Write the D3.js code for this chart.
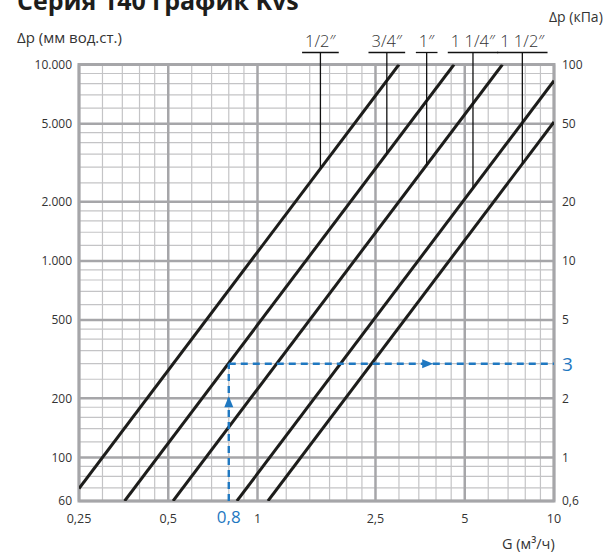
<!DOCTYPE html>
<html><head><meta charset="utf-8">
<script src="https://cdn.jsdelivr.net/npm/d3@7/dist/d3.min.js"></script>
<style>body{margin:0;background:#fff}svg{display:block}</style>
</head><body>
<script>
// ---- data ----
const sizes = ["1/2″","3/4″","1″","1 1/4″","1 1/2″"];
const kvs = [3.0, 4.6, 6.7, 11, 14];          // m3/h at 1 bar
const leaderG = [1.63, 2.73, 3.72, 5.33, 7.82]; // G where the label leader meets the line
const xTicks = [0.25, 0.5, 1, 2.5, 5, 10];
const xTickLabels = ["0,25","0,5","1","2,5","5","10"];
const xMinor = [0.3,0.35,0.4,0.45,0.6,0.7,0.8,0.9,1.25,1.5,1.75,2,2.25,3,3.5,4,4.5,6,7,8,9];
const yTicks = [60,100,200,500,1000,2000,5000,10000];
const yTickLabels = ["60","100","200","500","1.000","2.000","5.000","10.000"];
const yRightLabels = ["0,6","1","2","5","10","20","50","100"];
const yMinor = [70,80,90,120,140,160,180,250,300,350,400,450,600,700,800,900,1200,1400,1600,1800,2500,3000,3500,4000,4500,6000,7000,8000,9000];
const example = {G: 0.8, dp: 300, Glabel: "0,8", dpLabel: "3"};

const W = 611, H = 553;
const svg = d3.select("body").append("svg").attr("width", W).attr("height", H);
const x = d3.scaleLog().domain([0.25, 10]).range([79, 554]);
const y = d3.scaleLog().domain([60, 10000]).range([501, 64.5]);
const font = "'Open Sans', sans-serif";
const grey = "#333";

// minor grid
const g = svg.append("g");
g.selectAll(".vm").data(xMinor).join("line")
  .attr("x1", d => x(d)).attr("x2", d => x(d)).attr("y1", y(60)).attr("y2", y(10000))
  .attr("stroke", "#c4c4c6").attr("stroke-width", 1.2);
g.selectAll(".hm").data(yMinor).join("line")
  .attr("y1", d => y(d)).attr("y2", d => y(d)).attr("x1", x(0.25)).attr("x2", x(10))
  .attr("stroke", "#c4c4c6").attr("stroke-width", 1.2);
// major grid
g.selectAll(".vM").data(xTicks).join("line")
  .attr("x1", d => x(d)).attr("x2", d => x(d)).attr("y1", y(60)).attr("y2", y(10000))
  .attr("stroke", "#a6a6a9").attr("stroke-width", 2.5);
g.selectAll(".hM").data(yTicks).join("line")
  .attr("y1", d => y(d)).attr("y2", d => y(d)).attr("x1", x(0.25)).attr("x2", x(10))
  .attr("stroke", "#a6a6a9").attr("stroke-width", 2.5);
svg.append("rect").attr("x", x(0.25)).attr("y", y(10000))
  .attr("width", x(10) - x(0.25)).attr("height", y(60) - y(10000))
  .attr("fill", "none").attr("stroke", "#a6a6a9").attr("stroke-width", 3);

// clip
svg.append("clipPath").attr("id", "clip").append("rect")
  .attr("x", x(0.25)).attr("y", y(10000)).attr("width", x(10) - x(0.25)).attr("height", y(60) - y(10000));

// curves dp(mm) = (G/Kvs)^2 * 10000
const dp = (G, k) => Math.pow(G / k, 2) * 10000;
const line = d3.line().x(d => x(d[0])).y(d => y(d[1]));
kvs.forEach(k => {
  const g0 = Math.max(0.25, k * Math.sqrt(60 / 10000));
  const g1 = Math.min(10, k);
  svg.append("path").attr("clip-path", "url(#clip)")
    .attr("d", line([[g0, dp(g0, k)], [g1, dp(g1, k)]]))
    .attr("fill", "none").attr("stroke", "#1d1d1b").attr("stroke-width", 3);
});

// labels with leaders
const labY = 47, ulY = 52.5;
sizes.forEach((s, i) => {
  const gx = x(leaderG[i]);
  const t = svg.append("text").attr("x", gx).attr("y", labY).attr("text-anchor", "middle")
    .attr("font-family", font).attr("font-weight", 300)
    .attr("font-size", 16.5).attr("fill", grey).text(s);
  const w = t.node().getComputedTextLength();
  svg.append("line").attr("x1", gx - w / 2 - 3).attr("x2", gx + w / 2 + 3)
    .attr("y1", ulY).attr("y2", ulY).attr("stroke", "#111").attr("stroke-width", 1.3);
  svg.append("line").attr("x1", gx).attr("x2", gx).attr("y1", ulY)
    .attr("y2", y(dp(leaderG[i], kvs[i]))).attr("stroke", "#111").attr("stroke-width", 1.3);
});

// tick labels
svg.selectAll(".yl").data(yTicks).join("text")
  .attr("x", 72).attr("y", d => y(d)).attr("dy", "0.36em").attr("text-anchor", "end")
  .attr("font-family", font).attr("font-size", 12).attr("fill", grey)
  .text((d, i) => yTickLabels[i]);
svg.selectAll(".yr").data(yTicks).join("text")
  .attr("x", 562).attr("y", d => y(d)).attr("dy", "0.36em").attr("text-anchor", "start")
  .attr("font-family", font).attr("font-size", 12).attr("fill", grey)
  .text((d, i) => yRightLabels[i]);
svg.selectAll(".xl").data(xTicks).join("text")
  .attr("x", d => x(d)).attr("y", 523).attr("text-anchor", "middle")
  .attr("font-family", font).attr("font-size", 12.5).attr("fill", grey)
  .text((d, i) => xTickLabels[i]);

// example dashed path
const blue = "#1f78c1";
svg.append("line").attr("x1", x(example.G)).attr("x2", x(example.G))
  .attr("y1", y(60)).attr("y2", y(example.dp))
  .attr("stroke", blue).attr("stroke-width", 2.4).attr("stroke-dasharray", "7,5");
svg.append("line").attr("x1", x(example.G)).attr("x2", x(10))
  .attr("y1", y(example.dp)).attr("y2", y(example.dp))
  .attr("stroke", blue).attr("stroke-width", 2.4).attr("stroke-dasharray", "7,5");
// arrows
const ax = x(example.G), ay = y(60) - 0.72 * (y(60) - y(example.dp));
svg.append("path").attr("d", `M${ax},${ay - 6} L${ax - 4.5},${ay + 5} L${ax + 4.5},${ay + 5} Z`).attr("fill", blue);
const hy = y(example.dp), hx = x(example.G) + 0.61 * (x(10) - x(example.G));
svg.append("path").attr("d", `M${hx + 6},${hy} L${hx - 5},${hy - 4.5} L${hx - 5},${hy + 4.5} Z`).attr("fill", blue);
svg.append("text").attr("x", x(example.G)).attr("y", 523).attr("text-anchor", "middle")
  .attr("font-family", font).attr("font-size", 17).attr("fill", blue).text(example.Glabel);
svg.append("text").attr("x", 562).attr("y", y(example.dp)).attr("dy", "0.36em")
  .attr("font-family", font).attr("font-size", 19).attr("fill", blue).text(example.dpLabel);

// titles
svg.append("text").attr("x", 17).attr("y", 10).attr("font-family", font).attr("font-weight", "bold")
  .attr("font-size", 25).attr("fill", "#1d1d1b").text("Серия 140 график Kvs");
svg.append("text").attr("x", 17).attr("y", 43).attr("font-family", font)
  .attr("font-size", 15).attr("fill", grey).text("Δp (мм вод.ст.)");
svg.append("text").attr("x", 549).attr("y", 22).attr("font-family", font)
  .attr("font-size", 14).attr("fill", grey).text("Δp (кПа)");
svg.append("text").attr("x", 502).attr("y", 549).attr("font-family", font)
  .attr("font-size", 14.5).attr("fill", grey).text("G (м³/ч)");
</script>
</body></html>
